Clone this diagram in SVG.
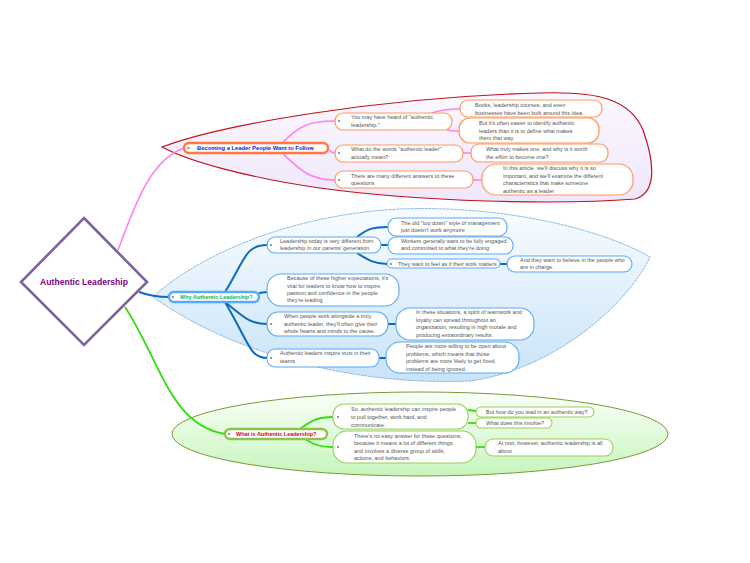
<svg xmlns="http://www.w3.org/2000/svg" width="750" height="563" viewBox="0 0 750 563">
<style>
.t{font-family:"Liberation Sans",Arial,sans-serif;font-size:5.5px;fill:#555}
.h{font-family:"Liberation Sans",Arial,sans-serif;font-size:5.5px;font-weight:bold}
.o{fill:#fff;stroke:#ff9a5c;stroke-width:1.2}
.b{fill:#fff;stroke:#5aaaf5;stroke-width:1.1}
.g{fill:#fff;stroke:#9ad05a;stroke-width:1.1}
.d{stroke:#333;stroke-width:1}
.cp{fill:none;stroke:#ff80f4;stroke-width:1.6}
.cb{fill:none;stroke:#0a6bbf;stroke-width:2}
.cg{fill:none;stroke:#33dd11;stroke-width:1.8}
</style>
<defs>
<linearGradient id="gp" x1="0" y1="0" x2="0" y2="1"><stop offset="0" stop-color="#fbf8ff"/><stop offset="1" stop-color="#efe6fb"/></linearGradient>
<linearGradient id="gb" x1="0" y1="0" x2="0" y2="1"><stop offset="0" stop-color="#f8fcff"/><stop offset="1" stop-color="#c9e3f8"/></linearGradient>
<linearGradient id="gg" x1="0" y1="0" x2="0" y2="1"><stop offset="0" stop-color="#fbfff9"/><stop offset="1" stop-color="#c6f5bd"/></linearGradient>
</defs>
<rect width="750" height="563" fill="#fff"/>
<g id="boundaries">
<path d="M162,147 C220,125 380,97 540,93 C600,91 630,100 643,130 C652,155 660,192 635,199 C560,205 420,202 320,188 C250,178 190,162 162,147 Z" fill="url(#gp)" stroke="#c0101a" stroke-width="1.2"/>
<path d="M153,297 C190,262 280,215 400,209 C500,205 600,228 650,257 C630,300 560,368 470,381 C350,386 230,352 153,297 Z" fill="url(#gb)" stroke="#8cbbe6" stroke-width="1" stroke-dasharray="3 0.6"/>
<ellipse cx="420" cy="434" rx="248" ry="42" fill="url(#gg)" stroke="#7a9a3a" stroke-width="1"/>
</g>
<g id="connectors">
<path class="cp" d="M118,250 C135,205 150,160 184,148"/>
<path class="cb" d="M139,292 C150,296 160,297 169,297"/>
<path class="cg" d="M125,307 C160,360 170,425 225,434"/>
<path class="cp" d="M282,143 C300,125 310,121 335,121"/>
<path class="cp" d="M328,149 C331,152 333,153 335,153"/>
<path class="cp" d="M282,153 C300,170 310,180 335,180"/>
<path class="cp" d="M432,113 C440,110 450,109 460,109"/>
<path class="cp" d="M447,130 C452,131 455,131 459,131"/>
<path class="cp" d="M463,153 L471,153"/>
<path class="cp" d="M473,180 L482,180"/>
<path class="cb" d="M225,292 C245,260 245,245 267,245"/>
<path class="cb" d="M259,293 L267,292"/>
<path class="cb" d="M225,302 C245,318 250,324 267,324"/>
<path class="cb" d="M225,302 C250,345 250,358 267,358"/>
<path class="cb" d="M357,237 C368,228 375,227 388,227"/>
<path class="cb" d="M381,245 L388,245"/>
<path class="cb" d="M357,253 C368,260 375,264 387,264"/>
<path class="cb" d="M500,264 L507,264"/>
<path class="cb" d="M388,324 L396,324"/>
<path class="cb" d="M379,358 L386,358"/>
<path class="cg" d="M300,429 C312,420 318,417 333,417"/>
<path class="cg" d="M305,439 C315,445 320,447 333,447"/>
<path class="cg" d="M468,410 L476,411"/>
<path class="cg" d="M468,423 L476,423"/>
<path class="cg" d="M476,447 L485,447"/>
</g>
<g id="root">
<polygon points="84,218 147,282 84,345 21,282" fill="#fff" stroke="#7d63a3" stroke-width="2.6"/>
<text x="84" y="285" text-anchor="middle" font-family="Liberation Sans,Arial,sans-serif" font-size="8.6" font-weight="bold" fill="#800080">Authentic Leadership</text>
</g>
<g id="n-becoming">
<rect x="184" y="143" width="144" height="10" rx="5" fill="#fff" stroke="#ff7a3c" stroke-width="2.4"/>
<line class="d" x1="187.5" y1="148" x2="189.5" y2="148"/>
<text class="h" x="197" y="150" fill="#1020e0" style="font-size:5.8px">Becoming a Leader People Want to Follow</text>
</g>
<g id="n-youmay"><rect class="o" x="335" y="113" width="117" height="17" rx="8"/><line class="d" x1="338" y1="121" x2="340" y2="121"/><text class="t" x="351" y="119.3">You may have heard of "authentic</text><text class="t" x="351" y="127">leadership."</text></g>
<g id="n-whatwords"><rect class="o" x="335" y="145" width="128" height="17" rx="8"/><line class="d" x1="338" y1="153" x2="340" y2="153"/><text class="t" x="351" y="151">What do the words "authentic leader"</text><text class="t" x="351" y="159">actually mean?</text></g>
<g id="n-many"><rect class="o" x="335" y="171" width="138" height="17" rx="8"/><line class="d" x1="338" y1="180" x2="340" y2="180"/><text class="t" x="351" y="177.5">There are many different answers to these</text><text class="t" x="351" y="185.2">questions</text></g>
<g id="n-books"><rect class="o" x="460" y="100" width="142" height="17" rx="8"/><text class="t" x="475" y="107">Books, leadership courses, and even</text><text class="t" x="475" y="114.5">businesses have been built around this idea.</text></g>
<g id="n-butit"><rect class="o" x="459" y="118" width="140" height="25" rx="11"/><text class="t" x="479" y="125.3">But it's often easier to identify authentic</text><text class="t" x="479" y="132.7">leaders than it is to define what makes</text><text class="t" x="479" y="139.7">them that way.</text></g>
<g id="n-whattruly"><rect class="o" x="471" y="144" width="137" height="18" rx="8"/><text class="t" x="486" y="151.3">What truly makes one, and why is it worth</text><text class="t" x="486" y="158.7">the effort to become one?</text></g>
<g id="n-article"><rect class="o" x="482" y="164" width="151" height="31" rx="14"/><text class="t" x="503" y="170">In this article, we'll discuss why it is so</text><text class="t" x="503" y="177.7">important, and we'll examine the different</text><text class="t" x="503" y="185.3">characteristics that make someone</text><text class="t" x="503" y="193">authentic as a leader</text></g>
<g id="n-why">
<rect x="169" y="292" width="90" height="10" rx="5" fill="#fff" stroke="#55aaff" stroke-width="2.4"/>
<line class="d" x1="172" y1="297" x2="174" y2="297"/>
<text class="h" x="180" y="299" fill="#10b050">Why Authentic Leadership?</text>
</g>
<g id="n-today"><rect class="b" x="267" y="237" width="114" height="16" rx="8"/><line class="d" x1="270" y1="245" x2="272" y2="245"/><text class="t" x="280" y="243">Leadership today is very different from</text><text class="t" x="280" y="250.3">leadership in our parents' generation</text></g>
<g id="n-because"><rect class="b" x="267" y="274" width="132" height="32" rx="14"/><text class="t" x="287" y="280.3">Because of these higher expectations, it's</text><text class="t" x="287" y="287.7">vital for leaders to know how to inspire</text><text class="t" x="287" y="295">passion and confidence in the people</text><text class="t" x="287" y="302.3">they're leading</text></g>
<g id="n-when"><rect class="b" x="267" y="312" width="121" height="24" rx="11"/><line class="d" x1="270" y1="324" x2="272" y2="324"/><text class="t" x="284" y="318">When people work alongside a truly</text><text class="t" x="284" y="325.7">authentic leader, they'll often give their</text><text class="t" x="284" y="333">whole hearts and minds to the cause.</text></g>
<g id="n-trust"><rect class="b" x="267" y="349" width="112" height="18" rx="8"/><line class="d" x1="270" y1="358" x2="272" y2="358"/><text class="t" x="280" y="355.3">Authentic leaders inspire trust in their</text><text class="t" x="280" y="363">teams</text></g>
<g id="n-old"><rect class="b" x="388" y="218" width="119" height="18" rx="8"/><text class="t" x="401" y="224.7">The old "top down" style of management</text><text class="t" x="401" y="232">just doesn't work anymore</text></g>
<g id="n-workers"><rect class="b" x="388" y="237" width="125" height="17" rx="8"/><text class="t" x="401" y="243">Workers generally want to be fully engaged,</text><text class="t" x="401" y="250.3">and committed to what they're doing</text></g>
<g id="n-feel"><rect class="b" x="387" y="259" width="113" height="9" rx="4.5"/><line class="d" x1="390" y1="264" x2="392" y2="264"/><text class="t" x="398" y="266">They want to feel as if their work matters</text></g>
<g id="n-believe"><rect class="b" x="507" y="256" width="125" height="16" rx="8"/><text class="t" x="520" y="262">And they want to believe in the people who</text><text class="t" x="520" y="269.3">are in charge.</text></g>
<g id="n-situations"><rect class="b" x="396" y="308" width="138" height="32" rx="14"/><text class="t" x="416" y="314.3">In these situations, a spirit of teamwork and</text><text class="t" x="416" y="322">loyalty can spread throughout an</text><text class="t" x="416" y="329.3">organization, resulting in high morale and</text><text class="t" x="416" y="337">producing extraordinary results.</text></g>
<g id="n-open"><rect class="b" x="386" y="342" width="133" height="31" rx="14"/><text class="t" x="406" y="348">People are more willing to be open about</text><text class="t" x="406" y="355.7">problems, which means that those</text><text class="t" x="406" y="363">problems are more likely to get fixed,</text><text class="t" x="406" y="371">instead of being ignored.</text></g>
<g id="n-what">
<rect x="225" y="429" width="102" height="10" rx="5" fill="#fff" stroke="#8cc44c" stroke-width="2.4"/>
<line class="d" x1="228" y1="434" x2="230" y2="434"/>
<text class="h" x="236" y="436" fill="#d0001a">What is Authentic Leadership?</text>
</g>
<g id="n-so"><rect class="g" x="333" y="404" width="135" height="25" rx="11"/><line class="d" x1="337" y1="417" x2="339" y2="417"/><text class="t" x="351" y="411.3">So, authentic leadership can inspire people</text><text class="t" x="351" y="419.3">to pull together, work hard, and</text><text class="t" x="351" y="427">communicate.</text></g>
<g id="n-noeasy"><rect class="g" x="333" y="431" width="143" height="32" rx="14"/><line class="d" x1="337" y1="447" x2="339" y2="447"/><text class="t" x="354" y="437.7">There's no easy answer for these questions,</text><text class="t" x="354" y="445.3">because it means a lot of different things</text><text class="t" x="354" y="453">and involves a diverse group of skills,</text><text class="t" x="354" y="460.3">actions, and behaviors.</text></g>
<g id="n-howlead"><rect class="g" x="476" y="407" width="118" height="10" rx="5"/><text class="t" x="486" y="414">But how do you lead in an authentic way?</text></g>
<g id="n-involve"><rect class="g" x="476" y="418" width="76" height="10" rx="5"/><text class="t" x="486" y="425">What does this involve?</text></g>
<g id="n-root"><rect class="g" x="485" y="439" width="128" height="17" rx="8"/><text class="t" x="498" y="444.7">At root, however, authentic leadership is all</text><text class="t" x="498" y="452.7">about</text></g>
</svg>
